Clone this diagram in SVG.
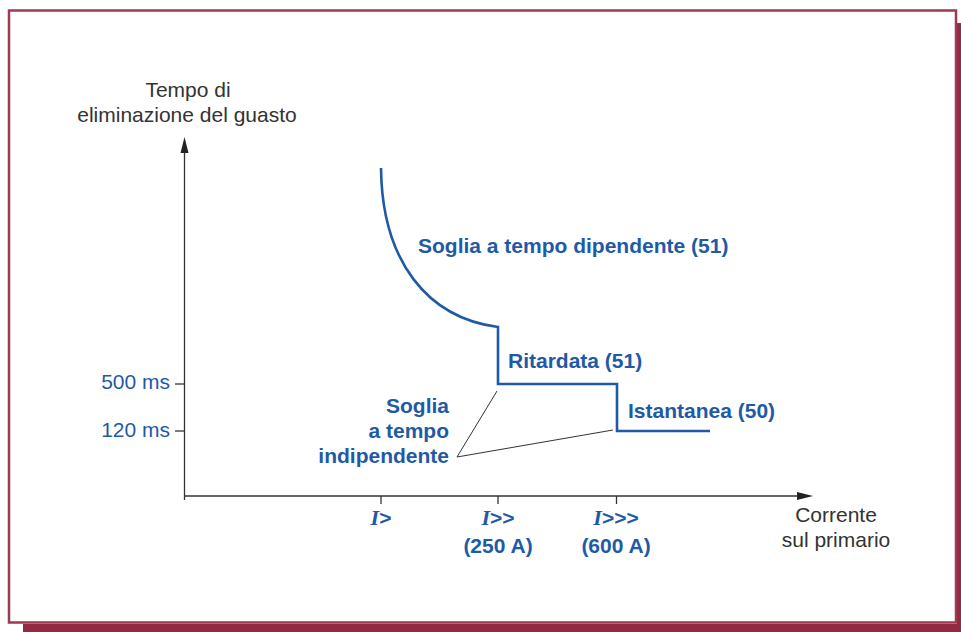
<svg xmlns="http://www.w3.org/2000/svg" width="961" height="632" viewBox="0 0 961 632">
<style>
.ax{stroke:#333;stroke-width:1.3;fill:none}
.cv{stroke:#1f5aa6;stroke-width:2.6;fill:none}
.ld{stroke:#333;stroke-width:1;fill:none}
.lb{font-family:"Liberation Sans",Arial,sans-serif;font-size:21px;fill:#333}
.bl{font-family:"Liberation Sans",Arial,sans-serif;font-size:21px;fill:#1f5aa6}
.bb{font-family:"Liberation Sans",Arial,sans-serif;font-size:21px;font-weight:bold;fill:#1f5aa6}
.ii{font-family:"Liberation Serif","Times New Roman",serif;font-style:italic;font-weight:bold;font-size:22px}
</style>
<rect width="961" height="632" fill="#fff"/>
<g id="frame">
<rect x="957" y="23" width="4" height="609" fill="#922a42"/>
<rect x="23" y="624" width="938" height="8" fill="#922a42"/>
<rect x="9" y="10.5" width="947" height="612" fill="#fff" stroke="#9b3a52" stroke-width="2.5"/>
</g>
<g id="axes">
<line class="ax" x1="184.5" y1="500" x2="184.5" y2="150"/>
<polygon points="184.5,137 180.5,153 188.5,153" fill="#222"/>
<line class="ax" x1="184.5" y1="496" x2="800" y2="496"/>
<polygon points="813,496 797,492 797,500" fill="#222"/>
<line class="ax" x1="175" y1="384" x2="184.5" y2="384"/>
<line class="ax" x1="175" y1="431" x2="184.5" y2="431"/>
<line class="ax" x1="381" y1="496" x2="381" y2="504"/>
<line class="ax" x1="498" y1="496" x2="498" y2="504"/>
<line class="ax" x1="616.5" y1="496" x2="616.5" y2="504"/>
</g>
<g id="axis-labels">
<text class="lb" x="188" y="97" text-anchor="middle">Tempo di</text>
<text class="lb" x="187" y="122" text-anchor="middle">eliminazione del guasto</text>
<text class="lb" x="836" y="522" text-anchor="middle">Corrente</text>
<text class="lb" x="836" y="547" text-anchor="middle">sul primario</text>
<text class="bl" x="170" y="389" text-anchor="end">500 ms</text>
<text class="bl" x="170" y="437" text-anchor="end">120 ms</text>
<text class="bb" x="381" y="525" text-anchor="middle"><tspan class="ii">I</tspan>&gt;</text>
<text class="bb" x="498" y="525" text-anchor="middle"><tspan class="ii">I</tspan>&gt;&gt;</text>
<text class="bb" x="498" y="553" text-anchor="middle">(250 A)</text>
<text class="bb" x="616" y="525" text-anchor="middle"><tspan class="ii">I</tspan>&gt;&gt;&gt;</text>
<text class="bb" x="616" y="553" text-anchor="middle">(600 A)</text>
</g>
<g id="curve">
<path class="cv" d="M381,168 C382,262 428,318 498,327 L498,384 L617,384 L617,431 L710,431"/>
</g>
<g id="connectors">
<line class="ld" x1="457" y1="457" x2="497" y2="391"/>
<line class="ld" x1="457" y1="457" x2="613" y2="430"/>
</g>
<g id="labels">
<text class="bb" x="418" y="253">Soglia a tempo dipendente (51)</text>
<text class="bb" x="508" y="368">Ritardata (51)</text>
<text class="bb" x="628" y="418">Istantanea (50)</text>
<text class="bb" x="449" y="413" text-anchor="end">Soglia</text>
<text class="bb" x="449" y="438" text-anchor="end">a tempo</text>
<text class="bb" x="449" y="463" text-anchor="end">indipendente</text>
</g>
</svg>
